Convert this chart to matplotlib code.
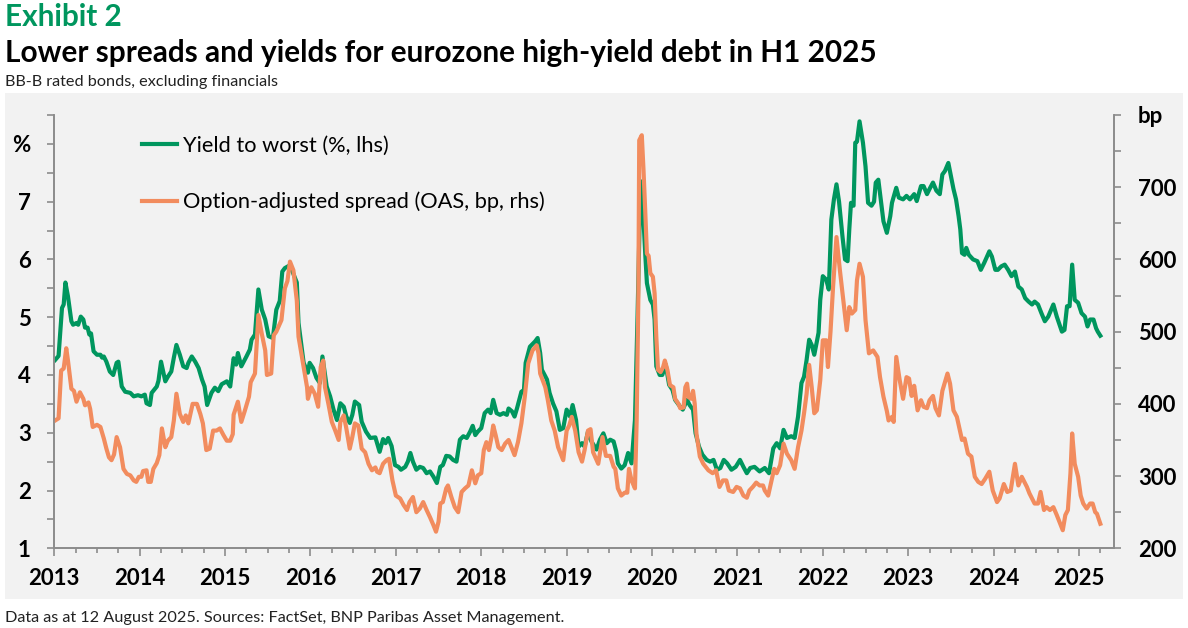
import matplotlib
matplotlib.use("Agg")
import matplotlib.pyplot as plt
from matplotlib.lines import Line2D
from matplotlib.patches import Rectangle
from matplotlib.ticker import MultipleLocator

GREEN = "#00965E"
ORANGE = "#F28C5E"
AXIS_GREY = "#8c8c8c"
PANEL = "#f2f2f2"

plt.rcParams["font.family"] = ["Lato", "DejaVu Sans"]

# Yield to worst, % (left axis)
ytw_dates = [
    2013.01, 2013.05, 2013.09, 2013.11, 2013.13, 2013.16, 2013.20, 2013.22, 2013.26, 2013.28,
    2013.31, 2013.34, 2013.36, 2013.39, 2013.41, 2013.43, 2013.46, 2013.50, 2013.54, 2013.56,
    2013.58, 2013.61, 2013.65, 2013.69, 2013.73, 2013.75, 2013.79, 2013.83, 2013.89, 2013.93,
    2013.98, 2014.02, 2014.06, 2014.08, 2014.12, 2014.14, 2014.20, 2014.22, 2014.25, 2014.30,
    2014.33, 2014.37, 2014.40, 2014.43, 2014.47, 2014.51, 2014.55, 2014.57, 2014.61, 2014.65,
    2014.69, 2014.73, 2014.76, 2014.79, 2014.84, 2014.88, 2014.92, 2014.96, 2015.02, 2015.06,
    2015.10, 2015.13, 2015.15, 2015.19, 2015.25, 2015.29, 2015.31, 2015.35, 2015.39, 2015.43,
    2015.47, 2015.51, 2015.56, 2015.60, 2015.64, 2015.67, 2015.70, 2015.76, 2015.80, 2015.84,
    2015.86, 2015.92, 2015.97, 2015.99, 2016.03, 2016.07, 2016.11, 2016.14, 2016.19, 2016.23,
    2016.27, 2016.31, 2016.35, 2016.39, 2016.42, 2016.46, 2016.49, 2016.52, 2016.57, 2016.60,
    2016.65, 2016.70, 2016.76, 2016.81, 2016.85, 2016.88, 2016.91, 2016.95, 2016.99, 2017.03,
    2017.06, 2017.11, 2017.14, 2017.17, 2017.20, 2017.24, 2017.28, 2017.32, 2017.36, 2017.40,
    2017.44, 2017.48, 2017.52, 2017.55, 2017.59, 2017.63, 2017.67, 2017.71, 2017.75, 2017.79,
    2017.83, 2017.87, 2017.90, 2017.93, 2017.96, 2018.00, 2018.04, 2018.08, 2018.11, 2018.14,
    2018.18, 2018.22, 2018.26, 2018.30, 2018.32, 2018.36, 2018.39, 2018.42, 2018.47, 2018.50,
    2018.52, 2018.57, 2018.63, 2018.66, 2018.69, 2018.71, 2018.77, 2018.80, 2018.84, 2018.88,
    2018.92, 2018.96, 2019.00, 2019.04, 2019.07, 2019.11, 2019.14, 2019.18, 2019.21, 2019.25,
    2019.29, 2019.35, 2019.39, 2019.43, 2019.47, 2019.51, 2019.55, 2019.58, 2019.60, 2019.64,
    2019.68, 2019.72, 2019.76, 2019.80, 2019.83, 2019.86, 2019.88, 2019.90, 2019.92, 2019.94,
    2019.98, 2020.01, 2020.03, 2020.05, 2020.09, 2020.12, 2020.16, 2020.20, 2020.24, 2020.27,
    2020.33, 2020.36, 2020.41, 2020.44, 2020.48, 2020.51, 2020.55, 2020.59, 2020.64, 2020.68,
    2020.72, 2020.76, 2020.80, 2020.84, 2020.88, 2020.93, 2020.98, 2021.03, 2021.07, 2021.11,
    2021.15, 2021.20, 2021.26, 2021.32, 2021.37, 2021.42, 2021.46, 2021.50, 2021.54, 2021.58,
    2021.63, 2021.67, 2021.71, 2021.75, 2021.78, 2021.81, 2021.84, 2021.87, 2021.90, 2021.95,
    2021.97, 2022.00, 2022.04, 2022.07, 2022.10, 2022.13, 2022.16, 2022.19, 2022.23, 2022.26,
    2022.29, 2022.31, 2022.33, 2022.36, 2022.38, 2022.40, 2022.43, 2022.47, 2022.50, 2022.53,
    2022.57, 2022.60, 2022.62, 2022.65, 2022.68, 2022.71, 2022.75, 2022.79, 2022.81, 2022.86,
    2022.89, 2022.94, 2022.98, 2023.02, 2023.07, 2023.10, 2023.15, 2023.18, 2023.22, 2023.25,
    2023.29, 2023.33, 2023.37, 2023.40, 2023.43, 2023.47, 2023.50, 2023.53, 2023.56, 2023.59,
    2023.61, 2023.63, 2023.66, 2023.68, 2023.71, 2023.76, 2023.81, 2023.85, 2023.89, 2023.95,
    2023.98, 2024.02, 2024.05, 2024.09, 2024.13, 2024.17, 2024.21, 2024.25, 2024.29, 2024.33,
    2024.37, 2024.41, 2024.45, 2024.48, 2024.52, 2024.56, 2024.60, 2024.64, 2024.70, 2024.74,
    2024.80, 2024.83, 2024.86, 2024.89, 2024.92, 2024.95, 2024.99, 2025.03, 2025.07, 2025.10,
    2025.13, 2025.17, 2025.20, 2025.22, 2025.25,
]
ytw_values = [
    4.26, 4.33, 5.16, 5.22, 5.60, 5.36, 4.93, 4.87, 4.90, 4.87,
    5.01, 4.96, 4.82, 4.82, 4.70, 4.72, 4.41, 4.35, 4.35, 4.30,
    4.32, 4.23, 4.06, 4.00, 4.21, 4.23, 3.80, 3.71, 3.69, 3.63,
    3.65, 3.63, 3.66, 3.51, 3.48, 3.69, 3.80, 3.90, 4.23, 3.89,
    3.97, 4.06, 4.30, 4.52, 4.35, 4.15, 4.12, 4.21, 4.32, 4.23,
    4.12, 3.92, 3.80, 3.48, 3.69, 3.78, 3.72, 3.84, 3.89, 3.80,
    4.29, 4.18, 4.38, 4.15, 4.32, 4.44, 4.61, 4.70, 5.48, 5.13,
    4.96, 4.67, 4.64, 5.13, 5.28, 5.79, 5.85, 5.90, 5.75, 5.60,
    4.90, 4.21, 4.04, 4.21, 4.12, 3.95, 3.86, 4.32, 3.80, 3.63,
    3.40, 3.22, 3.51, 3.45, 3.28, 3.17, 3.31, 3.54, 3.48, 3.19,
    3.02, 2.91, 2.92, 2.67, 2.89, 2.82, 2.91, 2.77, 2.44, 2.41,
    2.36, 2.41, 2.50, 2.65, 2.50, 2.36, 2.41, 2.39, 2.30, 2.33,
    2.24, 2.13, 2.41, 2.44, 2.60, 2.59, 2.53, 2.50, 2.88, 2.94,
    2.91, 3.02, 3.12, 2.96, 3.02, 3.08, 3.34, 3.40, 3.34, 3.57,
    3.34, 3.31, 3.34, 3.31, 3.42, 3.37, 3.28, 3.43, 3.71, 3.74,
    4.21, 4.49, 4.58, 4.64, 4.38, 4.09, 3.92, 3.69, 3.51, 3.37,
    3.05, 3.08, 3.40, 3.28, 3.48, 3.22, 2.76, 2.82, 2.76, 3.02,
    2.85, 2.71, 2.88, 2.99, 2.82, 2.88, 2.85, 2.68, 2.47, 2.38,
    2.44, 2.65, 2.47, 3.22, 5.00, 7.00, 7.35, 6.69, 6.11, 5.59,
    5.30, 5.22, 4.96, 4.15, 4.00, 4.00, 4.18, 3.83, 3.74, 3.57,
    3.45, 3.40, 3.57, 3.48, 3.40, 2.99, 2.76, 2.62, 2.53, 2.50,
    2.53, 2.36, 2.39, 2.53, 2.47, 2.36, 2.41, 2.53, 2.41, 2.30,
    2.39, 2.41, 2.33, 2.39, 2.30, 2.73, 2.82, 2.73, 3.05, 2.91,
    2.94, 2.91, 3.28, 3.86, 3.97, 4.26, 4.61, 4.52, 4.35, 4.73,
    5.30, 5.71, 5.65, 5.48, 6.69, 7.04, 7.30, 7.00, 6.40, 6.00,
    5.97, 6.52, 6.98, 6.93, 8.02, 8.04, 8.39, 8.02, 7.61, 6.98,
    6.93, 7.00, 7.33, 7.38, 7.02, 6.66, 6.46, 6.75, 6.98, 7.24,
    7.07, 7.04, 7.10, 7.04, 7.13, 7.01, 7.27, 7.27, 7.13, 7.22,
    7.33, 7.19, 7.13, 7.47, 7.53, 7.67, 7.44, 7.22, 7.04, 6.75,
    6.52, 6.11, 6.08, 6.20, 6.08, 6.00, 5.97, 5.82, 5.94, 6.14,
    6.05, 5.82, 5.82, 5.88, 5.91, 5.82, 5.71, 5.79, 5.53, 5.48,
    5.33, 5.27, 5.22, 5.27, 5.22, 5.07, 4.93, 5.01, 5.22, 5.01,
    4.75, 4.78, 5.19, 5.19, 5.91, 5.30, 5.25, 5.07, 5.01, 4.84,
    4.96, 4.96, 4.81, 4.75, 4.68,
]

# Option-adjusted spread, bp (right axis)
oas_dates = [
    2013.01, 2013.05, 2013.08, 2013.11, 2013.14, 2013.16, 2013.20, 2013.23, 2013.26, 2013.30,
    2013.34, 2013.36, 2013.40, 2013.42, 2013.45, 2013.50, 2013.54, 2013.58, 2013.61, 2013.64,
    2013.67, 2013.70, 2013.73, 2013.77, 2013.81, 2013.85, 2013.89, 2013.93, 2013.96, 2013.99,
    2014.02, 2014.04, 2014.08, 2014.10, 2014.13, 2014.16, 2014.20, 2014.23, 2014.26, 2014.30,
    2014.33, 2014.37, 2014.40, 2014.43, 2014.47, 2014.51, 2014.54, 2014.57, 2014.62, 2014.67,
    2014.71, 2014.74, 2014.78, 2014.82, 2014.86, 2014.90, 2014.94, 2014.98, 2015.02, 2015.06,
    2015.09, 2015.10, 2015.15, 2015.19, 2015.23, 2015.28, 2015.30, 2015.35, 2015.39, 2015.43,
    2015.47, 2015.49, 2015.54, 2015.57, 2015.60, 2015.66, 2015.70, 2015.73, 2015.76, 2015.80,
    2015.84, 2015.86, 2015.92, 2015.96, 2015.97, 2016.01, 2016.05, 2016.09, 2016.12, 2016.15,
    2016.17, 2016.21, 2016.25, 2016.29, 2016.33, 2016.35, 2016.39, 2016.42, 2016.46, 2016.49,
    2016.52, 2016.56, 2016.60, 2016.64, 2016.68, 2016.72, 2016.76, 2016.78, 2016.81, 2016.85,
    2016.89, 2016.92, 2016.96, 2017.00, 2017.05, 2017.09, 2017.13, 2017.16, 2017.20, 2017.24,
    2017.28, 2017.32, 2017.36, 2017.40, 2017.44, 2017.47, 2017.50, 2017.52, 2017.55, 2017.59,
    2017.61, 2017.65, 2017.69, 2017.73, 2017.77, 2017.81, 2017.85, 2017.89, 2017.93, 2017.96,
    2018.00, 2018.03, 2018.06, 2018.09, 2018.12, 2018.14, 2018.17, 2018.20, 2018.24, 2018.28,
    2018.32, 2018.36, 2018.39, 2018.43, 2018.47, 2018.51, 2018.55, 2018.60, 2018.65, 2018.67,
    2018.69, 2018.75, 2018.78, 2018.82, 2018.86, 2018.90, 2018.96, 2019.00, 2019.03, 2019.06,
    2019.10, 2019.14, 2019.18, 2019.21, 2019.25, 2019.28, 2019.31, 2019.37, 2019.42, 2019.46,
    2019.51, 2019.55, 2019.57, 2019.60, 2019.64, 2019.68, 2019.71, 2019.73, 2019.76, 2019.80,
    2019.82, 2019.84, 2019.85, 2019.88, 2019.90, 2019.92, 2019.94, 2019.96, 2019.98, 2020.01,
    2020.03, 2020.05, 2020.07, 2020.10, 2020.13, 2020.15, 2020.18, 2020.21, 2020.25, 2020.27,
    2020.31, 2020.33, 2020.37, 2020.39, 2020.41, 2020.43, 2020.46, 2020.48, 2020.50, 2020.52,
    2020.56, 2020.60, 2020.66, 2020.71, 2020.75, 2020.79, 2020.83, 2020.87, 2020.90, 2020.95,
    2020.99, 2021.03, 2021.07, 2021.11, 2021.14, 2021.18, 2021.22, 2021.26, 2021.30, 2021.32,
    2021.36, 2021.40, 2021.43, 2021.46, 2021.50, 2021.54, 2021.58, 2021.63, 2021.67, 2021.71,
    2021.75, 2021.78, 2021.81, 2021.84, 2021.87, 2021.90, 2021.93, 2021.97, 2022.00, 2022.04,
    2022.06, 2022.09, 2022.12, 2022.16, 2022.20, 2022.24, 2022.28, 2022.31, 2022.34, 2022.38,
    2022.40, 2022.43, 2022.47, 2022.50, 2022.54, 2022.59, 2022.64, 2022.67, 2022.71, 2022.75,
    2022.77, 2022.81, 2022.83, 2022.86, 2022.90, 2022.94, 2022.98, 2023.01, 2023.04, 2023.07,
    2023.11, 2023.15, 2023.18, 2023.22, 2023.25, 2023.29, 2023.32, 2023.36, 2023.40, 2023.46,
    2023.49, 2023.53, 2023.57, 2023.63, 2023.66, 2023.70, 2023.74, 2023.78, 2023.82, 2023.86,
    2023.90, 2023.95, 2023.99, 2024.04, 2024.07, 2024.12, 2024.16, 2024.20, 2024.25, 2024.29,
    2024.33, 2024.39, 2024.42, 2024.48, 2024.52, 2024.55, 2024.59, 2024.62, 2024.66, 2024.70,
    2024.74, 2024.78, 2024.81, 2024.84, 2024.87, 2024.90, 2024.92, 2024.95, 2024.99, 2025.02,
    2025.05, 2025.09, 2025.13, 2025.16, 2025.19, 2025.21, 2025.25,
]
oas_values = [
    377, 380, 446, 449, 477, 460, 421, 418, 403, 416,
    407, 398, 402, 393, 368, 371, 368, 352, 338, 326,
    322, 330, 354, 340, 310, 303, 301, 294, 292, 299,
    299, 307, 308, 292, 292, 310, 318, 329, 366, 340,
    349, 354, 377, 414, 386, 375, 384, 373, 400, 400,
    386, 373, 336, 338, 363, 363, 366, 357, 349, 349,
    358, 385, 403, 375, 390, 410, 430, 442, 523, 497,
    474, 440, 442, 495, 500, 516, 560, 570, 597, 585,
    543, 493, 451, 423, 407, 423, 414, 396, 451, 460,
    423, 400, 375, 363, 350, 375, 384, 366, 338, 354,
    373, 370, 338, 333, 317, 308, 312, 306, 304, 317,
    322, 324, 294, 273, 269, 260, 253, 264, 271, 250,
    255, 264, 253, 243, 232, 223, 237, 262, 264, 283,
    287, 271, 257, 250, 278, 283, 287, 308, 290, 301,
    304, 336, 347, 336, 354, 370, 356, 340, 336, 345,
    350, 338, 329, 347, 373, 410, 456, 474, 481, 470,
    442, 423, 405, 377, 363, 340, 322, 363, 370, 382,
    363, 333, 320, 336, 363, 365, 333, 317, 354, 328,
    328, 313, 310, 283, 273, 277, 277, 310, 294, 283,
    377, 550, 765, 772, 724, 668, 608, 605, 581, 576,
    553, 493, 447, 444, 451, 460, 447, 426, 423, 407,
    400, 394, 395, 423, 428, 409, 407, 418, 400, 359,
    327, 317, 308, 304, 308, 285, 294, 294, 280, 278,
    285, 283, 273, 270, 280, 285, 291, 287, 287, 280,
    273, 294, 310, 304, 315, 345, 331, 322, 310, 340,
    363, 387, 414, 454, 423, 387, 391, 433, 488, 488,
    451, 500, 562, 631, 585, 544, 502, 534, 525, 530,
    571, 594, 576, 516, 470, 474, 465, 437, 410, 390,
    377, 382, 375, 465, 433, 407, 437, 435, 411, 425,
    391, 405, 396, 394, 405, 411, 394, 384, 418, 442,
    428, 391, 382, 350, 352, 331, 327, 299, 292, 289,
    296, 306, 280, 264, 269, 289, 278, 280, 317, 287,
    299, 285, 276, 262, 262, 278, 253, 257, 253, 257,
    246, 234, 225, 246, 253, 304, 359, 317, 299, 273,
    262, 255, 262, 262, 250, 248, 234,
]

year_ticks = list(range(2013, 2026))
left_ticks = [1, 2, 3, 4, 5, 6, 7, 8]
left_labels = ["1", "2", "3", "4", "5", "6", "7", "%"]
right_ticks = [200, 300, 400, 500, 600, 700, 800]
right_labels = ["200", "300", "400", "500", "600", "700", "bp"]

fig = plt.figure(figsize=(11.88, 6.28), dpi=100)
fig.patches.append(Rectangle((5 / 1188, 29 / 628), 1178 / 1188, 506 / 628,
                             transform=fig.transFigure, facecolor=PANEL,
                             edgecolor="none", zorder=-10))

ax = fig.add_axes([54.3 / 1188, 79.7 / 628, (1114 - 54.3) / 1188, 433.3 / 628])
ax.set_facecolor("none")
ax2 = ax.twinx()
ax2.set_facecolor("none")

ax.plot(ytw_dates, ytw_values, color=GREEN, lw=3, solid_joinstyle="round")
ax2.plot(oas_dates, oas_values, color=ORANGE, lw=3, solid_joinstyle="round")

ax.set_xlim(2013, 2025.41)
ax.set_ylim(1, 8.5)
ax2.set_ylim(200, 800)

for a in (ax, ax2):
    a.spines["top"].set_visible(False)
    for side in ("left", "right", "bottom"):
        a.spines[side].set_color(AXIS_GREY)
        a.spines[side].set_linewidth(1.2)

ax.set_xticks(year_ticks)
ax.set_xticklabels([str(y) for y in year_ticks], fontsize=16, fontweight="bold")
ax.xaxis.set_minor_locator(MultipleLocator(0.25))
ax.tick_params(axis="x", which="major", length=6, width=1.2, color=AXIS_GREY, pad=8)
ax.tick_params(axis="x", which="minor", length=3.6, width=1.2, color=AXIS_GREY)

ax.set_yticks(left_ticks)
ax.set_yticklabels(left_labels, fontsize=16, fontweight="bold")
ax.yaxis.set_minor_locator(MultipleLocator(0.5))
ax.tick_params(axis="y", which="both", length=5, width=1.2, color=AXIS_GREY, pad=12)

ax2.set_yticks(right_ticks)
ax2.set_yticklabels(right_labels, fontsize=16, fontweight="bold")
ax2.yaxis.set_minor_locator(MultipleLocator(50))
ax2.tick_params(axis="y", which="both", length=5.3, width=1.2, color=AXIS_GREY, pad=12)

handles = [Line2D([], [], color=GREEN, lw=3), Line2D([], [], color=ORANGE, lw=3)]
ax2.legend(handles, ["Yield to worst (%, lhs)", "Option-adjusted spread (OAS, bp, rhs)"],
           loc="upper left", bbox_to_anchor=(0.083, 0.953), frameon=False,
           fontsize=15.7, handlelength=1.6, handletextpad=0.25, labelspacing=1.66,
           borderpad=0, borderaxespad=0)

fig.text(5 / 1188, 1 - 26 / 628, "Exhibit 2", color=GREEN, fontsize=21.4,
         fontweight="bold", va="baseline", ha="left")
fig.text(5 / 1188, 1 - 62 / 628,
         "Lower spreads and yields for eurozone high-yield debt in H1 2025",
         color="black", fontsize=21.4, fontweight="bold", va="baseline", ha="left")
fig.text(5 / 1188, 1 - 86 / 628, "BB-B rated bonds, excluding financials",
         color="#222222", fontsize=11.7, va="baseline", ha="left")
fig.text(5 / 1188, 1 - 622 / 628,
         "Data as at 12 August 2025. Sources: FactSet, BNP Paribas Asset Management.",
         color="#222222", fontsize=11.7, va="baseline", ha="left")

fig.savefig("out.png", dpi=100)
